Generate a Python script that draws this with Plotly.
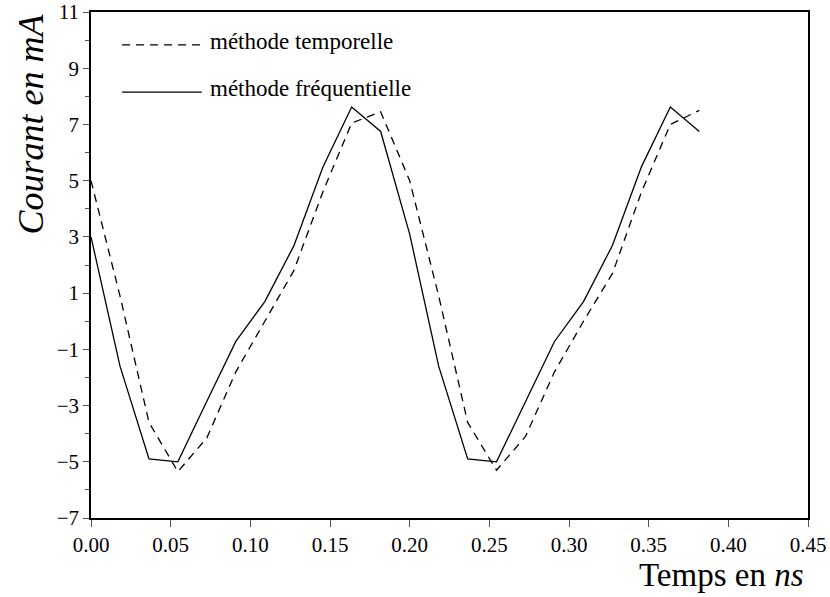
import plotly.graph_objects as go

# sample times (ns)
t = [0.0, 0.0182, 0.0364, 0.0545, 0.0727, 0.0909, 0.1091, 0.1273, 0.1455, 0.1636, 0.1818,
     0.2000, 0.2182, 0.2364, 0.2545, 0.2727, 0.2909, 0.3091, 0.3273, 0.3455, 0.3636, 0.3818]
# méthode temporelle (dashed)
i_temporelle = [5.0, 0.9, -3.6, -5.35, -4.15, -1.8, 0.0, 1.8, 4.6, 7.05, 7.45,
                5.0, 0.9, -3.6, -5.3, -4.1, -1.8, 0.0, 1.7, 4.6, 7.0, 7.5]
# méthode fréquentielle (solid)
i_frequentielle = [3.0, -1.6, -4.9, -5.0, -2.85, -0.72, 0.7, 2.68, 5.48, 7.62, 6.75,
                   3.1, -1.6, -4.9, -5.0, -2.85, -0.72, 0.7, 2.7, 5.5, 7.62, 6.75]

x_ticks = [0.0, 0.05, 0.10, 0.15, 0.20, 0.25, 0.30, 0.35, 0.40, 0.45]
y_ticks = [-7, -5, -3, -1, 1, 3, 5, 7, 9, 11]
y_minor = [-6, -4, -2, 0, 2, 4, 6, 8, 10]
legend_names = ["méthode temporelle", "méthode fréquentielle"]

SERIF = "Liberation Serif"
DASH = "8px,6px"

fig = go.Figure()
fig.add_trace(go.Scatter(x=t, y=i_temporelle, mode="lines", name=legend_names[0],
                         line=dict(color="black", width=1.3, dash=DASH)))
fig.add_trace(go.Scatter(x=t, y=i_frequentielle, mode="lines", name=legend_names[1],
                         line=dict(color="black", width=1.3)))

fig.update_layout(
    width=830, height=597,
    margin=dict(l=91, r=22, t=12, b=79),
    paper_bgcolor="white", plot_bgcolor="white",
    showlegend=False,
    font=dict(family=SERIF, size=21, color="black"),
    xaxis=dict(range=[0, 0.45], tickvals=x_ticks, tickformat=".2f", automargin=False,
               ticks="outside", ticklen=7, tickcolor="#555", tickwidth=1.3,
               showline=True, linecolor="black", linewidth=1.5, mirror=True,
               showgrid=False, zeroline=False,
               tickfont=dict(family=SERIF, size=21, color="black")),
    yaxis=dict(range=[-7, 11], tickvals=y_ticks, automargin=False,
               ticks="outside", ticklen=6, tickcolor="#555", tickwidth=1.3,
               minor=dict(tickvals=y_minor, ticks="outside", ticklen=4, tickcolor="#555", tickwidth=1.3),
               showline=True, linecolor="black", linewidth=1.5, mirror=True,
               showgrid=False, zeroline=False,
               tickfont=dict(family=SERIF, size=21, color="black")),
)

# axis titles
fig.add_annotation(xref="paper", yref="paper", x=-0.085, y=1.0, xanchor="center", yanchor="top",
                   text="<i>Courant en mA</i>", textangle=-90, showarrow=False,
                   font=dict(family=SERIF, size=36, color="black"))
fig.add_annotation(xref="paper", yref="paper", x=0.997, y=-0.152, xanchor="right", yanchor="bottom",
                   text="Temps en <i>ns</i>", showarrow=False,
                   font=dict(family=SERIF, size=33, color="black"))

# legend (manual, as in reference)
leg_y = [9.83, 8.15]
dashes = [DASH, "solid"]
for yy, name, d in zip(leg_y, legend_names, dashes):
    fig.add_shape(type="line", xref="x", yref="y", x0=0.0195, x1=0.0695, y0=yy, y1=yy,
                  line=dict(color="black", width=1.3, dash=d))
    fig.add_annotation(xref="x", yref="y", x=0.0735, y=yy + 0.12, xanchor="left", yanchor="middle",
                       text=name, showarrow=False,
                       font=dict(family=SERIF, size=23, color="black"))

fig.write_html("out.html")
